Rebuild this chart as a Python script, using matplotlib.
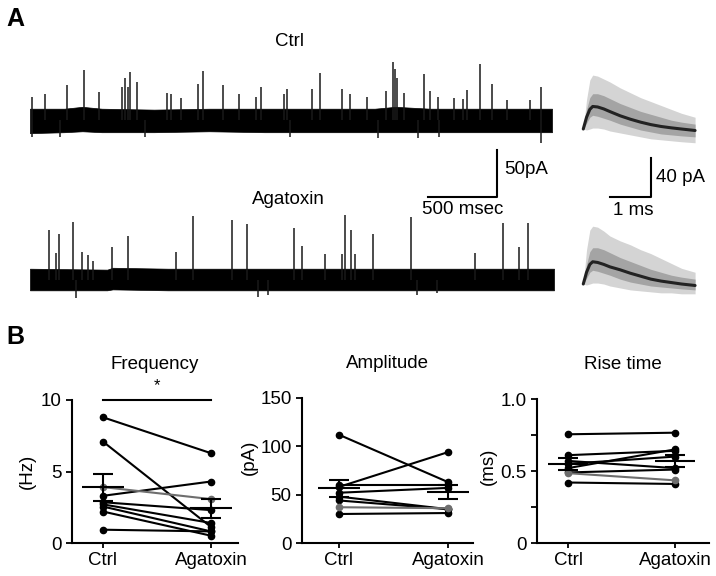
import matplotlib
matplotlib.use("Agg")
import matplotlib.pyplot as plt

plt.rcParams['font.family'] = ['Liberation Sans', 'DejaVu Sans']
plt.rcParams['font.size'] = 13.5

# ---- panel A: example traces (times in ms, currents in pA) ----
ctrl_event_t = [15, 109, 268, 392, 500, 667, 689, 711, 725, 776, 993, 1022, 1095, 1218, 1254,
                1399, 1515, 1639, 1675, 1842, 1864, 2045, 2103, 2262, 2320, 2443, 2581, 2632,
                2646, 2661, 2712, 2857, 2900, 2958, 3074, 3139, 3168, 3263, 3350, 3458, 3625, 3705,
                15, 218, 834, 1885, 2523, 2813, 2965, 3705]
ctrl_event_amp = [24, 28, 37, 53, 30, 35, 45, 35, 51, 40, 29, 28, 23, 38, 52,
                  37, 28, 24, 35, 28, 33, 33, 50, 33, 28, 24, 31, 62,
                  54, 45, 29, 49, 31, 24, 23, 22, 32, 59, 38, 21, 21, 35,
                  -18, -18, -18, -18, -19, -19, -18, -24]
ctrl_band_t = [0, 250, 380, 520, 900, 1300, 1700, 2100, 2500, 2650, 2900, 3300, 3600, 3785]
ctrl_band_hi = [12, 12, 14, 12, 11, 12, 12, 12, 12, 14, 12, 12, 12, 12]
ctrl_band_lo = [-14, -13, -12, -13, -13, -12, -13, -13, -13, -13, -13, -13, -13, -13]

ago_event_t = [138, 189, 210, 312, 377, 421, 457, 595, 711, 1059, 1182, 1465, 1573, 1914, 1972,
               2139, 2262, 2284, 2327, 2356, 2487, 2762, 3226, 3429, 3545, 3611,
               334, 1653, 1726, 2806, 2951]
ago_event_amp = [53, 29, 49, 62, 30, 27, 20, 35, 47, 30, 68, 64, 60, 55, 36,
                 28, 28, 69, 53, 28, 49, 67, 29, 61, 35, 61,
                 -19, -18, -16, -16, -14]
ago_band_t = [0, 560, 600, 1000, 1500, 2000, 2500, 3000, 3500, 3799]
ago_band_hi = [12, 11, 13, 12, 12, 12, 12, 12, 12, 12]
ago_band_lo = [-11, -11, -10, -11, -11, -11, -11, -11, -11, -11]

# averaged events (ms, pA)
avg_t = [0, 0.08, 0.16, 0.23, 0.35, 0.5, 0.65, 0.9, 1.15, 1.4, 1.65, 1.9, 2.15, 2.4, 2.73]
ctrl_avg = [0, 12, 20, 23, 22.5, 20.5, 17.8, 13.5, 10, 7, 4.5, 2.6, 1.2, 0, -1.5]
ctrl_avg_hi = [0, 30, 50, 55, 54, 51, 48, 42, 37, 32, 28, 24, 20, 16, 12]
ctrl_avg_lo = [0, -1, 0, 1, 1, 0, -2, -4, -6, -8, -10, -11, -12, -13, -14]
ctrl_core_hi = [0, 20, 32, 36, 36, 34, 31, 26, 22, 18, 15, 12, 9, 7, 5]
ctrl_core_lo = [0, 6, 12, 14, 13, 11, 9, 5, 2, -1, -3, -5, -6, -7, -8]
ago_avg = [0, 12, 20, 22.7, 22, 20, 17.5, 14.5, 11, 8, 5, 3, 1.5, 0, -1.5]
ago_avg_hi = [0, 35, 55, 59, 58, 54, 49, 44, 40, 35, 31, 26, 21, 16, 12]
ago_avg_lo = [0, -1, 0, 1, 1, 0, -2, -4, -6, -7, -8, -9, -9, -10, -10]
ago_core_hi = [0, 20, 33, 37, 37, 35, 32, 27, 23, 19, 15, 12, 9, 7, 5]
ago_core_lo = [0, 6, 12, 14, 13, 11, 9, 5, 2, 0, -2, -3, -4, -5, -6]

# ---- panel B: paired data ----
freq_ctrl = [8.79, 7.09, 3.30, 2.85, 2.70, 2.55, 2.20, 0.93]
freq_ago = [6.28, 1.12, 4.30, 2.30, 1.40, 0.81, 0.51, 0.81]
freq_gray = [3.91, 3.07]
freq_mean = [3.9, 2.42]
freq_sem = [0.95, 0.69]

amp_ctrl = [112, 58, 60, 52, 48, 44, 30]
amp_ago = [63, 94, 60, 57, 35, 35, 31]
amp_gray = [37, 36]
amp_mean = [56.4, 53]
amp_sem = [8.9, 7.5]

rise_ctrl = [0.755, 0.61, 0.57, 0.52, 0.55, 0.49, 0.42]
rise_ago = [0.766, 0.64, 0.52, 0.65, 0.60, 0.51, 0.41]
rise_gray = [0.485, 0.435]
rise_mean = [0.55, 0.57]
rise_sem = [0.04, 0.04]

groups = ['Ctrl', 'Agatoxin']

W, H = 716, 576
fig = plt.figure(figsize=(W / 100, H / 100), dpi=100)


def px_axes(left, top, right, bottom):
    return fig.add_axes([left / W, 1 - bottom / H, (right - left) / W, (bottom - top) / H])


def fig_text(x, y, s, **kw):
    fig.text(x / W, 1 - y / H, s, **kw)


def draw_trace(ax, band_t, hi, lo, ev_t, ev_amp, tmax):
    ax.fill_between(band_t, lo, hi, color='black', lw=0.5, edgecolor='black')
    ax.vlines(ev_t, 0, ev_amp, color='#1a1a1a', lw=1.1)
    ax.set_xlim(0, tmax)
    ax.axis('off')


def draw_avg(ax, hi, lo, core_hi, core_lo, mean):
    ax.fill_between(avg_t, lo, hi, color='#d4d4d4', lw=0)
    ax.fill_between(avg_t, core_lo, core_hi, color='#a4a4a4', lw=0)
    ax.plot(avg_t, mean, color='#222222', lw=2.2, solid_capstyle='round')
    ax.set_xlim(-0.08, 2.85)
    ax.axis('off')


ax_c = px_axes(30, 55, 552, 145)
draw_trace(ax_c, ctrl_band_t, ctrl_band_hi, ctrl_band_lo, ctrl_event_t, ctrl_event_amp, 3785)
ax_c.set_ylim(-26.6, 69.1)
# 500 ms / 50 pA scale bar
ax_c.plot([2886, 3386, 3386], [-81.9, -81.9, -31.9], color='black', lw=1.5, clip_on=False)
ax_c.text(3436, -53, '50pA', ha='left', va='center', clip_on=False)
ax_c.text(3136, -95, '500 msec', ha='center', va='center', clip_on=False)

ax_a = px_axes(30, 200, 554, 300)
draw_trace(ax_a, ago_band_t, ago_band_hi, ago_band_lo, ago_event_t, ago_event_amp, 3799)
ax_a.set_ylim(-21.3, 85.1)

ax_cavg = px_axes(580, 65, 700, 145)
draw_avg(ax_cavg, ctrl_avg_hi, ctrl_avg_lo, ctrl_core_hi, ctrl_core_lo, ctrl_avg)
ax_cavg.set_ylim(-16.3, 65.3)
ax_cavg.plot([0.65, 1.65, 1.65], [-69.4, -69.4, -29.4], color='black', lw=1.5, clip_on=False)
ax_cavg.text(1.77, -49, '40 pA', ha='left', va='center', clip_on=False)
ax_cavg.text(1.23, -83, '1 ms', ha='center', va='center', clip_on=False)

ax_aavg = px_axes(580, 215, 700, 300)
draw_avg(ax_aavg, ago_avg_hi, ago_avg_lo, ago_core_hi, ago_core_lo, ago_avg)
ax_aavg.set_ylim(-16.3, 70.4)

fig_text(290, 42, 'Ctrl', ha='center', va='center')
fig_text(288, 199, 'Agatoxin', ha='center', va='center')
fig_text(15, 19, 'A', ha='center', va='center', fontsize=18, fontweight='bold')
fig_text(15, 337, 'B', ha='center', va='center', fontsize=18, fontweight='bold')


def paired(ax, ctrl, ago, gray, mean, sem):
    for c, a in zip(ctrl, ago):
        ax.plot([0, 1], [c, a], '-o', color='black', lw=1.5, ms=4.5, clip_on=False, zorder=3)
    ax.plot([0, 1], gray, '-o', color='#6e6e6e', lw=1.5, ms=4.5, clip_on=False, zorder=3)
    for x, m, s in zip([0, 1], mean, sem):
        ax.hlines(m, x - 0.19, x + 0.19, color='black', lw=1.5, zorder=4, clip_on=False)
        ax.vlines(x, m - s, m + s, color='black', lw=1.5, zorder=4)
        ax.hlines([m - s, m + s], x - 0.09, x + 0.09, color='black', lw=1.5, zorder=4)
    ax.spines[['top', 'right']].set_visible(False)
    for sp in ['left', 'bottom']:
        ax.spines[sp].set_linewidth(1.5)
    ax.set_xticks([0, 1])
    ax.set_xticklabels(groups)
    ax.tick_params(width=1.3, length=4.5, pad=3, which='both')
    ax.tick_params(axis='x', length=3.5)


ax1 = px_axes(72, 400, 238, 543)
paired(ax1, freq_ctrl, freq_ago, freq_gray, freq_mean, freq_sem)
ax1.set_xlim(-0.287, 1.25)
ax1.set_ylim(0, 10)
ax1.set_yticks([0, 5, 10])
ax1.set_ylabel('(Hz)')
ax1.yaxis.set_label_coords(-0.215, 0.5)
ax1.plot([0, 1], [10, 10], color='black', lw=1.5, clip_on=False)
ax1.text(0.5, 11.0, '*', ha='center', va='center', fontsize=12)
ax1.text(0.5, 1.245, 'Frequency', transform=ax1.transAxes, ha='center', va='center')

ax2 = px_axes(302, 398, 473, 543)
paired(ax2, amp_ctrl, amp_ago, amp_gray, amp_mean, amp_sem)
ax2.set_xlim(-0.339, 1.229)
ax2.set_ylim(0, 150)
ax2.set_yticks([0, 50, 100, 150])
ax2.set_ylabel('(pA)')
ax2.yaxis.set_label_coords(-0.26, 0.59)
ax2.text(0.5, 1.24, 'Amplitude', transform=ax2.transAxes, ha='center', va='center')

ax3 = px_axes(537, 399, 709, 543)
paired(ax3, rise_ctrl, rise_ago, rise_gray, rise_mean, rise_sem)
ax3.set_xlim(-0.29, 1.318)
ax3.set_ylim(0, 1.0)
ax3.set_yticks([0, 0.5, 1.0])
ax3.set_yticklabels(['0', '0.5', '1.0'])
ax3.set_yticks([0.25, 0.75], minor=True)
ax3.set_ylabel('(ms)')
ax3.yaxis.set_label_coords(-0.235, 0.53)
ax3.text(0.5, 1.24, 'Rise time', transform=ax3.transAxes, ha='center', va='center')

fig.savefig('out.png', dpi=100)
